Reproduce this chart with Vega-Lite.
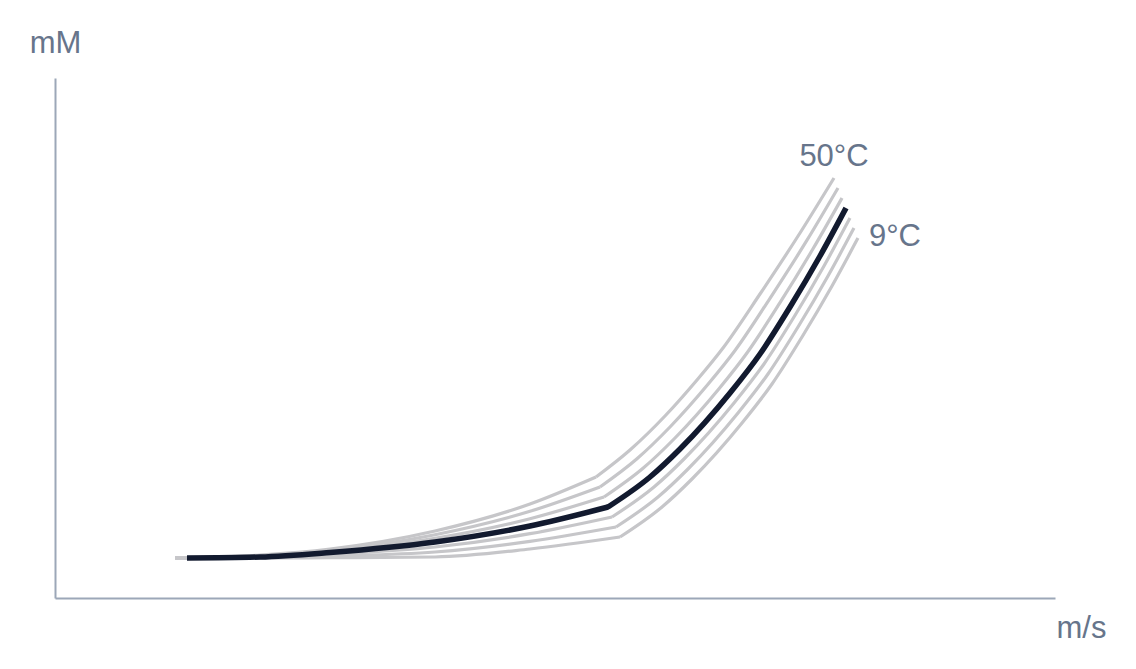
{
  "$schema": "https://vega.github.io/schema/vega-lite/v6.json",
  "autosize": "none",
  "width": 1000,
  "height": 520,
  "padding": {"top": 78, "left": 55, "right": 81, "bottom": 71},
  "background": "white",
  "config": {
    "view": {"stroke": null},
    "font": "Liberation Sans",
    "axis": {
      "domainColor": "#9ca7b8",
      "domainWidth": 2,
      "ticks": false,
      "labels": false,
      "grid": false,
      "titleFont": "Liberation Sans",
      "titleFontSize": 31,
      "titleFontWeight": "normal",
      "titleColor": "#67758b",
      "titleAngle": 0,
      "titleAlign": "center",
      "titleBaseline": "middle"
    }
  },
  "datasets": {
    "curves": [
      {"seg": "50a", "x": 120, "y": 40}, {"seg": "50a", "x": 205, "y": 43}, {"seg": "50a", "x": 275, "y": 49},
      {"seg": "50a", "x": 380, "y": 67}, {"seg": "50a", "x": 475, "y": 94}, {"seg": "50a", "x": 541, "y": 121},
      {"seg": "50b", "x": 541, "y": 121}, {"seg": "50b", "x": 575, "y": 148}, {"seg": "50b", "x": 610, "y": 182},
      {"seg": "50b", "x": 642, "y": 218}, {"seg": "50b", "x": 668, "y": 250}, {"seg": "50b", "x": 705, "y": 304},
      {"seg": "50b", "x": 745, "y": 365}, {"seg": "50b", "x": 779, "y": 420},

      {"seg": "43a", "x": 120, "y": 40}, {"seg": "43a", "x": 205, "y": 42.3}, {"seg": "43a", "x": 275, "y": 47.8},
      {"seg": "43a", "x": 380, "y": 63.3}, {"seg": "43a", "x": 475, "y": 86.7}, {"seg": "43a", "x": 545, "y": 111},
      {"seg": "43b", "x": 545, "y": 111}, {"seg": "43b", "x": 581.7, "y": 139}, {"seg": "43b", "x": 615, "y": 171},
      {"seg": "43b", "x": 653, "y": 213.7}, {"seg": "43b", "x": 680, "y": 247.5}, {"seg": "43b", "x": 715, "y": 299.7},
      {"seg": "43b", "x": 751.7, "y": 357.3}, {"seg": "43b", "x": 783, "y": 410},

      {"seg": "36a", "x": 120, "y": 40}, {"seg": "36a", "x": 205, "y": 41.7}, {"seg": "36a", "x": 275, "y": 46.7},
      {"seg": "36a", "x": 380, "y": 59.7}, {"seg": "36a", "x": 475, "y": 79.3}, {"seg": "36a", "x": 549, "y": 101},
      {"seg": "36b", "x": 549, "y": 101}, {"seg": "36b", "x": 588.3, "y": 130}, {"seg": "36b", "x": 620, "y": 160},
      {"seg": "36b", "x": 664, "y": 209.3}, {"seg": "36b", "x": 692.5, "y": 245.8}, {"seg": "36b", "x": 725, "y": 295.3},
      {"seg": "36b", "x": 758.3, "y": 349.7}, {"seg": "36b", "x": 787, "y": 400},

      {"seg": "23a", "x": 120, "y": 40}, {"seg": "23a", "x": 205, "y": 40.7}, {"seg": "23a", "x": 275, "y": 43.8},
      {"seg": "23a", "x": 380, "y": 51}, {"seg": "23a", "x": 475, "y": 64.3}, {"seg": "23a", "x": 557, "y": 81},
      {"seg": "23b", "x": 557, "y": 81}, {"seg": "23b", "x": 599, "y": 111}, {"seg": "23b", "x": 629, "y": 139},
      {"seg": "23b", "x": 679, "y": 195}, {"seg": "23b", "x": 709, "y": 234}, {"seg": "23b", "x": 739, "y": 281},
      {"seg": "23b", "x": 769, "y": 332}, {"seg": "23b", "x": 795, "y": 380},

      {"seg": "16a", "x": 120, "y": 40}, {"seg": "16a", "x": 205, "y": 40.3}, {"seg": "16a", "x": 275, "y": 42},
      {"seg": "16a", "x": 380, "y": 46}, {"seg": "16a", "x": 475, "y": 56.7}, {"seg": "16a", "x": 561, "y": 71},
      {"seg": "16b", "x": 561, "y": 71}, {"seg": "16b", "x": 603, "y": 101}, {"seg": "16b", "x": 633, "y": 129},
      {"seg": "16b", "x": 683, "y": 185}, {"seg": "16b", "x": 713, "y": 224}, {"seg": "16b", "x": 743, "y": 271},
      {"seg": "16b", "x": 773, "y": 322}, {"seg": "16b", "x": 799, "y": 370},

      {"seg": "9a", "x": 120, "y": 40}, {"seg": "9a", "x": 205, "y": 40}, {"seg": "9a", "x": 275, "y": 40.3},
      {"seg": "9a", "x": 380, "y": 41}, {"seg": "9a", "x": 475, "y": 49}, {"seg": "9a", "x": 565, "y": 61},
      {"seg": "9b", "x": 565, "y": 61}, {"seg": "9b", "x": 607, "y": 91}, {"seg": "9b", "x": 637, "y": 119},
      {"seg": "9b", "x": 687, "y": 175}, {"seg": "9b", "x": 717, "y": 214}, {"seg": "9b", "x": 747, "y": 261},
      {"seg": "9b", "x": 777, "y": 312}, {"seg": "9b", "x": 803, "y": 360}
    ],
    "current": [
      {"seg": "a", "x": 132, "y": 40}, {"seg": "a", "x": 205, "y": 41}, {"seg": "a", "x": 275, "y": 45.5},
      {"seg": "a", "x": 380, "y": 56}, {"seg": "a", "x": 475, "y": 72}, {"seg": "a", "x": 553, "y": 91},
      {"seg": "b", "x": 553, "y": 91}, {"seg": "b", "x": 595, "y": 121}, {"seg": "b", "x": 625, "y": 149},
      {"seg": "b", "x": 675, "y": 205}, {"seg": "b", "x": 705, "y": 244}, {"seg": "b", "x": 735, "y": 291},
      {"seg": "b", "x": 765, "y": 342}, {"seg": "b", "x": 791, "y": 390}
    ],
    "kink": [
      {"x": 553, "y": 91}
    ],
    "labels": [
      {"text": "50°C", "x": 779, "y": 441},
      {"text": "9°C", "x": 840, "y": 361}
    ]
  },
  "layer": [
    {
      "data": {"name": "curves"},
      "mark": {"type": "line", "color": "#c6c6c9", "strokeWidth": 3.2, "strokeCap": "butt", "interpolate": "monotone"},
      "encoding": {
        "x": {
          "field": "x",
          "type": "quantitative",
          "scale": {"domain": [0, 1000], "nice": false, "zero": false},
          "axis": {"title": "m/s", "titleX": 1026, "titleY": 30}
        },
        "y": {
          "field": "y",
          "type": "quantitative",
          "scale": {"domain": [0, 520], "nice": false, "zero": false},
          "axis": {"title": "mM", "titleX": 0, "titleY": -35}
        },
        "detail": {"field": "seg"},
        "order": {"field": "x"}
      }
    },
    {
      "data": {"name": "current"},
      "mark": {"type": "line", "color": "#121a2f", "strokeWidth": 5.5, "strokeCap": "butt", "interpolate": "monotone"},
      "encoding": {
        "x": {"field": "x", "type": "quantitative"},
        "y": {"field": "y", "type": "quantitative"},
        "detail": {"field": "seg"},
        "order": {"field": "x"}
      }
    },
    {
      "data": {"name": "kink"},
      "mark": {"type": "circle", "color": "#121a2f", "opacity": 1, "size": 24},
      "encoding": {
        "x": {"field": "x", "type": "quantitative"},
        "y": {"field": "y", "type": "quantitative"}
      }
    },
    {
      "data": {"name": "labels"},
      "mark": {"type": "text", "fontSize": 31, "color": "#67758b", "baseline": "middle", "align": "center", "font": "Liberation Sans"},
      "encoding": {
        "x": {"field": "x", "type": "quantitative"},
        "y": {"field": "y", "type": "quantitative"},
        "text": {"field": "text"}
      }
    }
  ]
}
